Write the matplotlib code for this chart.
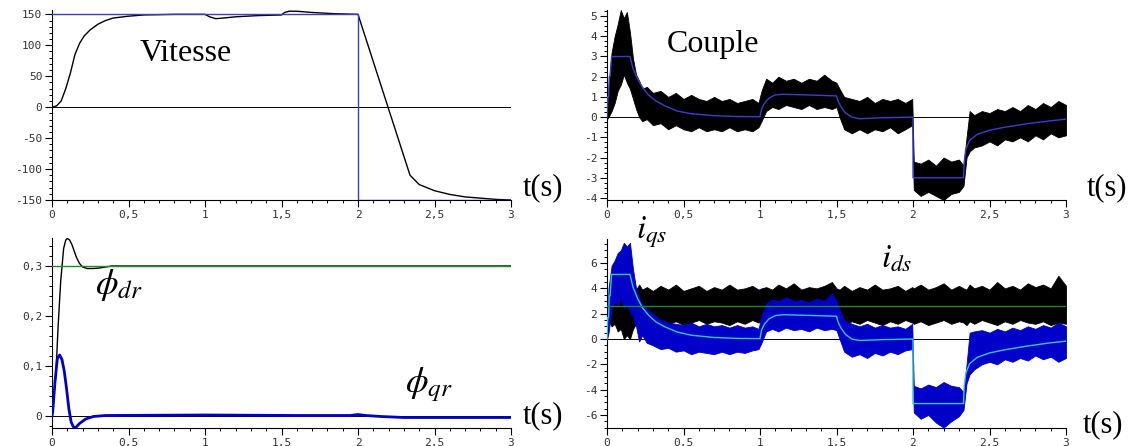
import numpy as np
import matplotlib
matplotlib.use("Agg")
import matplotlib.pyplot as plt
from matplotlib.ticker import MultipleLocator

plt.rcParams['mathtext.fontset'] = 'stix'

# ---- Vitesse (speed) ----
t_w = [0, 0.03, 0.06, 0.09, 0.12, 0.15, 0.18, 0.21, 0.25, 0.3, 0.35, 0.4, 0.5, 0.6, 0.8,
       1.0, 1.03, 1.07, 1.12, 1.2, 1.35, 1.5, 1.52, 1.55, 1.6, 1.7, 1.85, 2.0, 2.34,
       2.4, 2.5, 2.6, 2.7, 2.8, 2.9, 3.0]
w = [0, 2, 10, 30, 55, 85, 103, 115, 125, 134, 140, 144, 147, 149, 150,
     150, 146, 143, 144, 146, 148, 149, 153, 155, 155, 153, 151, 150, -110,
     -125, -135, -141, -145, -147, -149, -150]
t_wref = [0, 2, 2, 3]
w_ref = [150, 150, -150, -150]

# ---- Couple (torque) ----
t_ref = [0, 0.005, 0.01, 0.015, 0.02, 0.03, 0.15, 0.17, 0.2, 0.23, 0.27, 0.32, 0.38, 0.46,
         0.55, 0.7, 0.85, 1.0, 1.01, 1.03, 1.06, 1.1, 1.15, 1.3, 1.5, 1.51, 1.53, 1.56,
         1.6, 1.65, 1.8, 2.0, 2.0, 2.33, 2.335, 2.345, 2.37, 2.42, 2.5, 2.6, 2.75, 2.9, 3.0]
ce_ref = [0, 1, 1, 2, 2, 3, 3, 2.4, 1.9, 1.5, 1.1, 0.8, 0.55, 0.3,
          0.17, 0.07, 0.03, 0.02, 0.4, 0.7, 0.95, 1.1, 1.13, 1.1, 1.05, 0.8, 0.5, 0.2,
          0.0, -0.08, -0.03, 0.0, -3.0, -3.0, -2.2, -1.6, -1.15, -0.85, -0.65, -0.5, -0.32, -0.18, -0.1]
iqs_ref = [0, 1.7, 1.7, 3.4, 3.4, 5.1, 5.1, 4.1, 3.2, 2.5, 1.9, 1.35, 0.95, 0.55,
           0.3, 0.12, 0.05, 0.03, 0.7, 1.2, 1.6, 1.85, 1.92, 1.87, 1.8, 1.35, 0.85, 0.35,
           0.0, -0.12, -0.05, 0.0, -5.1, -5.1, -3.7, -2.7, -1.95, -1.45, -1.1, -0.85, -0.55, -0.3, -0.17]

# time grid of the noise envelopes
t_band = [0, 0.01, 0.03, 0.05, 0.07, 0.09, 0.11, 0.13, 0.15, 0.17, 0.19, 0.21, 0.23, 0.26,
          0.3, 0.35, 0.4, 0.45, 0.5, 0.55, 0.6, 0.65, 0.7, 0.75, 0.8, 0.85, 0.9, 0.95, 0.99,
          1.01, 1.04, 1.08, 1.12, 1.17, 1.22, 1.27, 1.32, 1.37, 1.42, 1.47, 1.5,
          1.52, 1.55, 1.6, 1.65, 1.7, 1.75, 1.8, 1.85, 1.9, 1.95, 1.995,
          2.005, 2.05, 2.1, 2.15, 2.2, 2.25, 2.3, 2.33,
          2.35, 2.37, 2.4, 2.45, 2.5, 2.55, 2.6, 2.65, 2.7, 2.75, 2.8, 2.85, 2.9, 2.95, 3.0]
ce_up = [0.2, 1.5, 3.2, 4.0, 4.6, 5.3, 4.9, 5.2, 4.2, 2.9, 2.1, 1.8, 1.4, 1.5,
         1.2, 1.3, 1.0, 1.2, 0.9, 1.1, 0.9, 0.8, 1.0, 0.8, 0.9, 0.7, 0.8, 0.9, 0.7,
         1.3, 1.9, 1.7, 2.0, 1.8, 1.9, 1.7, 1.9, 1.8, 2.1, 1.8, 1.7,
         1.4, 1.0, 0.9, 0.8, 1.0, 0.7, 0.9, 0.8, 0.9, 0.7, 0.9,
         -2.2, -2.3, -2.1, -2.4, -2.0, -2.2, -2.1, -2.4,
         -1.0, 0.3, 0.1, 0.3, 0.2, 0.4, 0.3, 0.5, 0.3, 0.6, 0.4, 0.7, 0.5, 0.8, 0.6]
ce_lo = [-0.1, 0.0, 0.3, 0.7, 1.3, 1.6, 2.1, 1.7, 1.4, 0.9, 0.4, 0.0, -0.2, -0.1,
         -0.4, -0.3, -0.6, -0.4, -0.6, -0.7, -0.5, -0.7, -0.6, -0.7, -0.5, -0.7, -0.6, -0.7, -0.5,
         -0.2, 0.3, 0.5, 0.4, 0.6, 0.5, 0.4, 0.6, 0.4, 0.5, 0.4, 0.5,
         0.0, -0.6, -0.8, -0.6, -0.8, -0.6, -0.7, -0.5, -0.8, -0.6, -0.4,
         -3.6, -3.9, -3.7, -3.9, -4.1, -3.8, -3.7, -3.4,
         -2.0, -1.7, -1.5, -1.4, -1.2, -1.4, -1.1, -1.2, -1.0, -1.2, -0.9, -1.1, -0.8, -1.0, -0.9]

# ---- flux ----
t_phid = [0, 0.005, 0.015, 0.025, 0.04, 0.057, 0.076, 0.09, 0.1, 0.115, 0.13, 0.16, 0.18,
          0.2, 0.23, 0.27, 0.31, 0.35, 0.39, 3.0]
phi_dr = [0, 0.01, 0.05, 0.08, 0.18, 0.27, 0.335, 0.352, 0.355, 0.352, 0.343, 0.317, 0.305,
          0.298, 0.295, 0.295, 0.296, 0.298, 0.3, 0.3]
t_phiq = [0, 0.005, 0.02, 0.035, 0.05, 0.065, 0.08, 0.095, 0.11, 0.125, 0.14, 0.155, 0.18,
          0.22, 0.27, 0.35, 1.0, 1.6, 1.95, 2.0, 2.05, 2.15, 2.3, 2.5, 3.0]
phi_qr = [0, 0.01, 0.07, 0.115, 0.122, 0.113, 0.09, 0.055, 0.015, -0.012, -0.022, -0.023, -0.015,
          -0.006, -0.001, 0.001, 0.002, 0.001, 0.001, 0.003, 0.001, -0.001, -0.003, -0.003, -0.003]
phi_ref = 0.3

# ---- courants ----
ids_ref = 2.6
ids_up = [0.5, 2.5, 3.6, 4.0, 3.8, 4.2, 3.9, 4.1, 3.8, 4.0, 3.9, 4.3, 3.9, 4.1,
          3.8, 4.2, 3.9, 4.3, 3.8, 4.0, 4.2, 3.8, 4.1, 3.9, 4.3, 3.9, 4.0, 4.2, 3.9,
          4.0, 4.1, 3.9, 4.3, 4.0, 4.4, 3.9, 4.1, 4.0, 4.2, 4.5, 4.0,
          3.9, 4.2, 3.8, 4.1, 3.9, 4.3, 3.9, 4.0, 4.2, 3.8, 4.1,
          4.0, 4.3, 3.9, 4.1, 4.4, 3.9, 4.2, 4.0,
          3.9, 4.3, 4.0, 4.2, 3.9, 4.5, 4.0, 4.2, 3.9, 4.4, 4.1, 4.3, 4.0, 5.0, 4.2]
ids_lo = [0.0, 1.5, 1.0, 1.2, 0.6, 0.8, 0.0, 0.3, 0.0, 0.8, 1.2, 1.0, 1.4, 1.2,
          1.3, 1.5, 1.2, 1.4, 1.1, 1.3, 1.5, 1.2, 1.4, 1.3, 1.1, 1.4, 1.2, 1.5, 1.3,
          1.4, 1.2, 1.5, 1.3, 1.4, 1.2, 1.5, 1.3, 1.4, 1.2, 1.3, 1.5,
          1.3, 1.1, 1.4, 1.2, 1.5, 1.3, 1.1, 1.4, 1.2, 1.5, 1.3,
          1.2, 1.4, 1.1, 1.3, 1.5, 1.2, 1.4, 1.3,
          1.1, 1.4, 1.2, 1.5, 1.3, 1.1, 1.4, 1.2, 1.5, 1.3, 1.2, 1.4, 1.1, 1.3, 1.2]
iqs_up = [0.5, 4.0, 5.8, 6.2, 6.8, 7.0, 7.6, 7.3, 7.6, 5.5, 4.0, 3.2, 2.8, 2.4,
          2.0, 1.5, 1.3, 1.2, 1.1, 1.3, 1.0, 1.2, 1.0, 1.1, 0.9, 1.1, 0.9, 1.0, 0.8,
          1.8, 2.8, 3.1, 3.0, 3.3, 3.0, 3.1, 2.9, 3.2, 3.0, 3.6, 3.0,
          2.3, 1.5, 1.2, 1.0, 1.2, 0.9, 1.1, 0.9, 1.0, 0.8, 1.2,
          -3.7, -3.9, -3.6, -3.8, -3.4, -3.7, -3.8, -4.2,
          -2.0, 0.5, 0.6, 0.7, 0.5, 0.8, 0.6, 0.9, 0.7, 1.0, 0.8, 1.1, 0.9, 1.3, 1.0]
iqs_lo = [0.0, 0.5, 2.3, 3.0, 2.6, 3.3, 2.4, 2.8, 2.2, 1.8, 1.0, -0.2, 0.3, -0.3,
          -0.5, -0.8, -0.7, -1.0, -0.9, -1.2, -1.0, -1.1, -1.2, -1.0, -1.2, -1.0, -1.1, -0.9, -0.8,
          -0.3, 0.6, 0.8, 0.6, 0.9, 0.7, 0.8, 0.6, 0.9, 0.7, 0.8, 0.7,
          0.0, -1.0, -1.4, -1.2, -1.5, -1.1, -1.3, -1.0, -1.2, -0.9, -0.8,
          -5.8, -6.3, -6.0, -6.6, -7.0, -6.5, -6.1, -5.6,
          -3.5, -2.8, -2.4, -2.0, -1.8, -2.0, -1.6, -1.8, -1.5, -1.7, -1.3, -1.6, -1.4, -1.8, -1.5]

x_ticks = [0, 0.5, 1, 1.5, 2, 2.5, 3]
x_labels = ['0', '0,5', '1', '1,5', '2', '2,5', '3']

BLUE = '#3c3cd0'
NAVY = '#0000c8'
CYAN = '#30c8c8'
GREEN = '#1e8c1e'

fig = plt.figure(figsize=(11.33, 4.46), dpi=100)
W, H = 1133, 446


def make_ax(x0, y_top, y_bot, ylim, yticks, ylabels, yminor):
    ax = fig.add_axes([x0 / W, 1 - y_bot / H, 459 / W, (y_bot - y_top) / H])
    ax.spines['top'].set_visible(False)
    ax.spines['right'].set_visible(False)
    ax.set_xlim(0, 3)
    ax.set_ylim(*ylim)
    ax.set_xticks(x_ticks)
    ax.set_xticklabels(x_labels)
    ax.set_yticks(yticks)
    ax.set_yticklabels(ylabels)
    ax.xaxis.set_minor_locator(MultipleLocator(0.1))
    ax.yaxis.set_minor_locator(MultipleLocator(yminor))
    ax.tick_params(which='major', direction='out', length=5, width=0.8, pad=2,
                   labelsize=8, labelcolor='#333333')
    ax.tick_params(which='minor', direction='out', length=2.5, width=0.7)
    for lab in ax.get_xticklabels() + ax.get_yticklabels():
        lab.set_family('DejaVu Sans Mono')
    ax.axhline(0, color='k', lw=0.7, zorder=1)
    return ax


serif = 'Liberation Serif'

# top left: speed
ax1 = make_ax(52, 10, 200, (-150, 157), [150, 100, 50, 0, -50, -100, -150],
              ['150', '100', '50', '0', '-50', '-100', '-150'], 10)
ax1.plot(t_w, w, color='k', lw=1.0, zorder=3)
ax1.plot(t_wref, w_ref, color=BLUE, lw=1.0, zorder=4)

# top right: torque
ax2 = make_ax(607, 10, 200, (-4.1, 5.3), [5, 4, 3, 2, 1, 0, -1, -2, -3, -4],
              ['5', '4', '3', '2', '1', '0', '-1', '-2', '-3', '-4'], 0.25)
ax2.fill_between(t_band, ce_lo, ce_up, color='k', lw=0.6, zorder=2)
ax2.plot(t_ref, ce_ref, color=BLUE, lw=1.0, zorder=4)

# bottom left: flux
ax3 = make_ax(52, 238, 428, (-0.024, 0.356), [0.3, 0.2, 0.1, 0],
              ['0,3', '0,2', '0,1', '0'], 0.02)
ax3.plot(t_phid, phi_dr, color='k', lw=1.0, zorder=3)
ax3.axhline(phi_ref, color=GREEN, lw=1.0, zorder=4)
ax3.plot(t_phiq, phi_qr, color=NAVY, lw=2.0, zorder=3)

# bottom right: currents
ax4 = make_ax(607, 239, 428, (-7.03, 7.9), [6, 4, 2, 0, -2, -4, -6],
              ['6', '4', '2', '0', '-2', '-4', '-6'], 0.5)
ax4.fill_between(t_band, ids_lo, ids_up, color='k', lw=0.6, zorder=2)
ax4.fill_between(t_band, iqs_lo, iqs_up, color=NAVY, lw=0.6, zorder=3)
ax4.plot(t_ref, iqs_ref, color=CYAN, lw=1.0, zorder=4)
ax4.axhline(ids_ref, color=GREEN, lw=1.0, zorder=5)


def ftext(x, y, s, size, **kw):
    fig.text(x / W, 1 - y / H, s, fontsize=size, family=serif, va='baseline', ha='left', **kw)


ftext(140, 61, 'Vitesse', 23)
ftext(667, 52, 'Couple', 23)
for (x, y) in [(523, 195), (1087, 195), (523, 423), (1083, 432)]:
    ftext(x, y, 't(s)', 22)
ftext(95, 294, r'$\phi_{dr}$', 26)
ftext(405, 392, r'$\phi_{qr}$', 26)
ftext(636, 238, r'$i_{qs}$', 24)
ftext(881, 268, r'$i_{ds}$', 24)

fig.savefig('out.png', dpi=100)
